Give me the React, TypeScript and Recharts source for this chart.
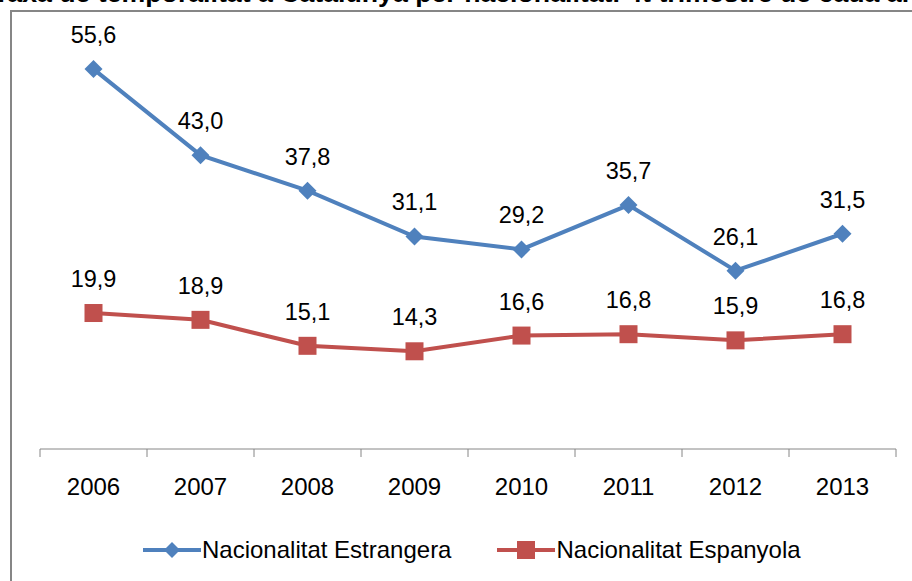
import { CartesianGrid, LabelList, Line, LineChart, XAxis, YAxis } from 'recharts';

const years = ['2006', '2007', '2008', '2009', '2010', '2011', '2012', '2013'];
const estrangera = [55.6, 43.0, 37.8, 31.1, 29.2, 35.7, 26.1, 31.5];
const espanyola = [19.9, 18.9, 15.1, 14.3, 16.6, 16.8, 15.9, 16.8];

const BLUE = '#4F81BD';
const RED = '#C0504D';
const AXIS = '#868686';
const FONT = '"Liberation Sans", Arial, sans-serif';

const data = years.map((year, i) => ({ year, estrangera: estrangera[i], espanyola: espanyola[i] }));

const fmt = (v: number) => v.toFixed(1).replace('.', ',');

const Diamond = ({ cx, cy }: any) => {
  if (cx == null || cy == null) return null;
  const r = 9;
  return <polygon points={`${cx},${cy - r} ${cx + r},${cy} ${cx},${cy + r} ${cx - r},${cy}`} fill={BLUE} />;
};

const Square = ({ cx, cy }: any) => {
  if (cx == null || cy == null) return null;
  const s = 18;
  return <rect x={cx - s / 2} y={cy - s / 2} width={s} height={s} fill={RED} />;
};

const YearTick = ({ x, y, payload, index, visibleTicksCount, width }: any) => {
  const half = width / visibleTicksCount / 2;
  return (
    <g>
      <line x1={x - half} x2={x - half} y1={y} y2={y + 8} stroke={AXIS} strokeWidth={1} />
      {index === visibleTicksCount - 1 && (
        <line x1={x + half} x2={x + half} y1={y} y2={y + 8} stroke={AXIS} strokeWidth={1} />
      )}
      <text x={x} y={y + 46} textAnchor="middle" fontSize={24} fontFamily={FONT} fill="#000">
        {payload.value}
      </text>
    </g>
  );
};

// legend drawn as plain html under the plot
const LegendRow = () => (
  <div style={{ display: 'flex', alignItems: 'center', paddingLeft: 143, fontFamily: FONT, fontSize: 24, color: '#000' }}>
    <svg width={58} height={20}>
      <line x1={0} x2={58} y1={10} y2={10} stroke={BLUE} strokeWidth={4} />
      <polygon points="29,2 37,10 29,18 21,10" fill={BLUE} />
    </svg>
    <span style={{ marginLeft: 1 }}>Nacionalitat Estrangera</span>
    <svg width={58} height={20} style={{ marginLeft: 46 }}>
      <line x1={0} x2={58} y1={10} y2={10} stroke={RED} strokeWidth={4} />
      <rect x={20} y={1} width={18} height={18} fill={RED} />
    </svg>
    <span style={{ marginLeft: 1 }}>Nacionalitat Espanyola</span>
  </div>
);

export default function App() {
  return (
    <div style={{ position: 'absolute', left: 0, top: 0, width: 912, height: 581, overflow: 'hidden', background: '#fff' }}>
      <div
        style={{
          position: 'absolute',
          left: -7,
          top: -20,
          whiteSpace: 'nowrap',
          fontFamily: FONT,
          fontWeight: 'bold',
          fontSize: 26.7,
          lineHeight: '27px',
        }}
      >
        Taxa de temporalitat a Catalunya per nacionalitat. 4t trimestre de cada any
      </div>
      <div
        style={{
          position: 'absolute',
          left: 10,
          top: 10,
          width: 1000,
          height: 700,
          borderLeft: `2px solid ${AXIS}`,
          borderTop: `2px solid ${AXIS}`,
        }}
      />
      <div style={{ position: 'absolute', left: 0, top: 0 }}>
        <LineChart width={912} height={581} data={data} margin={{ top: 39, right: 16, bottom: 102, left: 40 }}>
          <CartesianGrid horizontal={false} vertical={false} />
          <XAxis
            dataKey="year"
            padding={{ left: 53.5, right: 53.5 }}
            axisLine={{ stroke: AXIS, strokeWidth: 1 }}
            tickLine={false}
            tickSize={0}
            tickMargin={0}
            interval={0}
            height={30}
            tick={<YearTick />}
          />
          <YAxis hide domain={[0, 60]} />
          <Line
            dataKey="estrangera"
            stroke={BLUE}
            strokeWidth={4}
            dot={<Diamond />}
            activeDot={false}
            isAnimationActive={false}
          >
            <LabelList dataKey="estrangera" position="top" offset={26} formatter={fmt} fontSize={23.5} fontFamily={FONT} fill="#000" />
          </Line>
          <Line
            dataKey="espanyola"
            stroke={RED}
            strokeWidth={4}
            dot={<Square />}
            activeDot={false}
            isAnimationActive={false}
          >
            <LabelList dataKey="espanyola" position="top" offset={26} formatter={fmt} fontSize={23.5} fontFamily={FONT} fill="#000" />
          </Line>
        </LineChart>
      </div>
      <div style={{ position: 'absolute', left: 0, top: 536, width: 912 }}>
        <LegendRow />
      </div>
    </div>
  );
}
